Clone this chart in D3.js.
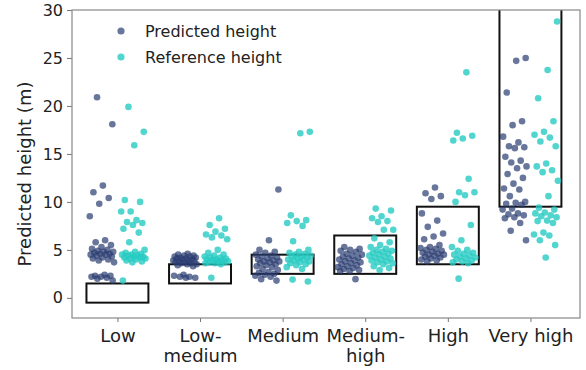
<!DOCTYPE html>
<html>
<head>
<meta charset="utf-8">
<script src="https://cdn.jsdelivr.net/npm/d3@7"></script>
<style>
  body { margin: 0; background: #fff; }
  svg { font-family: 'DejaVu Sans', sans-serif; }
</style>
</head>
<body>
<div id="chart"></div>
<script>
const categories = ['Low', 'Low-medium', 'Medium', 'Medium-high', 'High', 'Very high']
const tickLabels = [['Low'], ['Low-', 'medium'], ['Medium'], ['Medium-', 'high'], ['High'], ['Very high']]

// class ranges (m)
const rangeLow = [-0.5, 1.5, 2.5, 2.5, 3.5, 9.5]
const rangeHigh = [1.5, 3.5, 4.5, 6.5, 9.5, 32]

const predicted = [
  [20.9, 18.1, 11.7, 11.0, 10.4, 9.8, 8.5, 6.0, 5.8, 5.5, 5.3, 5.1, 5.0, 4.9, 4.8, 4.8, 4.7, 4.6, 4.6, 4.5, 4.5, 4.4, 4.3, 4.2, 4.1, 4.0, 3.9, 3.7, 2.4, 2.3, 2.3, 2.2, 2.2, 2.1, 2.0, 1.8],
  [4.6, 4.5, 4.4, 4.4, 4.3, 4.3, 4.2, 4.2, 4.1, 4.1, 4.0, 4.0, 3.9, 3.9, 3.8, 3.8, 3.7, 3.7, 3.6, 3.6, 3.5, 3.5, 3.4, 3.3, 2.4, 2.3, 2.2, 2.2, 2.1, 2.1],
  [11.3, 6.0, 5.0, 4.8, 4.7, 4.5, 4.4, 4.3, 4.2, 4.1, 4.0, 3.9, 3.8, 3.8, 3.7, 3.6, 3.5, 3.4, 3.3, 3.2, 3.0, 2.9, 2.7, 2.6, 2.5, 2.4, 2.3, 2.2, 1.95, 1.8],
  [5.3, 5.1, 5.0, 4.9, 4.8, 4.6, 4.5, 4.4, 4.3, 4.2, 4.1, 4.0, 3.9, 3.8, 3.7, 3.6, 3.5, 3.4, 3.3, 3.2, 3.1, 3.0, 2.9, 2.8, 2.8, 1.95],
  [11.5, 10.9, 10.6, 10.3, 8.8, 8.05, 7.4, 6.7, 6.4, 6.1, 5.5, 5.3, 5.2, 5.1, 5.0, 4.9, 4.8, 4.7, 4.6, 4.5, 4.5, 4.4, 4.3, 4.2, 4.1, 4.0, 3.9, 3.8],
  [25.0, 24.7, 21.4, 18.4, 18.0, 16.8, 16.2, 15.8, 15.7, 15.6, 14.7, 14.3, 14.1, 13.7, 13.5, 12.9, 12.5, 11.9, 11.4, 11.3, 10.6, 10.0, 9.9, 9.8, 9.7, 9.3, 9.2, 8.8, 8.7, 8.6, 8.4, 8.3, 7.8, 7.0, 6.0]
]

const reference = [
  [19.9, 17.3, 15.9, 10.2, 10.0, 9.0, 9.0, 8.1, 7.9, 7.8, 7.6, 7.2, 6.8, 5.8, 5.0, 4.8, 4.7, 4.6, 4.5, 4.5, 4.4, 4.4, 4.3, 4.3, 4.2, 4.2, 4.1, 4.1, 4.0, 3.9, 3.8, 3.7, 1.8],
  [8.3, 7.6, 7.2, 6.9, 6.6, 6.5, 6.3, 6.1, 5.0, 4.7, 4.5, 4.4, 4.3, 4.2, 4.2, 4.1, 4.0, 4.0, 3.9, 3.9, 3.8, 3.8, 3.7, 3.7, 3.6, 3.6, 3.5, 2.1],
  [17.3, 17.15, 8.6, 8.1, 8.0, 7.8, 7.5, 5.9, 5.0, 4.8, 4.7, 4.6, 4.5, 4.4, 4.3, 4.3, 4.2, 4.1, 4.0, 4.0, 3.9, 3.8, 3.7, 3.6, 3.5, 3.4, 3.2, 3.0, 1.9, 1.7],
  [9.3, 9.1, 8.5, 8.3, 8.0, 7.9, 7.1, 7.1, 6.2, 5.8, 5.5, 5.3, 5.1, 5.0, 4.9, 4.8, 4.7, 4.6, 4.5, 4.4, 4.3, 4.2, 4.1, 4.0, 3.9, 3.8, 3.7, 3.6, 3.5, 3.3, 3.1, 2.9],
  [23.5, 17.2, 16.9, 16.6, 16.4, 12.4, 11.0, 11.0, 10.7, 10.0, 7.6, 6.0, 5.3, 5.0, 4.9, 4.7, 4.6, 4.5, 4.4, 4.3, 4.2, 4.1, 4.0, 3.9, 3.8, 3.7, 3.6, 2.0],
  [28.8, 23.75, 20.8, 18.4, 17.3, 17.0, 16.7, 16.3, 15.8, 14.0, 13.7, 13.3, 13.1, 12.2, 10.6, 9.4, 9.2, 8.9, 8.8, 8.6, 8.5, 8.4, 8.05, 8.0, 7.8, 6.8, 6.6, 6.5, 6.0, 5.5, 4.2]
]

const series = [
  { name: 'Predicted height', values: predicted, color: '#2a3c70', opacity: 0.7, dodge: -0.19 },
  { name: 'Reference height', values: reference, color: '#26cbc2', opacity: 0.8, dodge: 0.19 }
]

const width = 586, height = 370
const margin = { top: 10, right: 6, bottom: 52, left: 72 }
const w = width - margin.left - margin.right
const h = height - margin.top - margin.bottom

const svg = d3.select('#chart').append('svg')
    .attr('width', width)
    .attr('height', height)

const canvas = svg.append('g')
    .attr('transform', 'translate(' + margin.left + ',' + margin.top + ')')

const x = d3.scaleLinear().domain([-0.55, 5.6]).range([0, w])
const y = d3.scaleLinear().domain([-2.1, 30]).range([h, 0])

canvas.append('clipPath').attr('id', 'clip')
  .append('rect').attr('width', w).attr('height', h)

const plot = canvas.append('g').attr('clip-path', 'url(#clip)')

// jitter within each strip: golden-ratio sequence, deterministic
const jitter = i => (((i * 0.6180339887 + 0.31) % 1) - 0.5) * 0.3

// class range boxes
plot.selectAll('rect.range')
  .data(categories)
  .enter().append('rect')
    .attr('class', 'range')
    .attr('x', (d, i) => x(i - 0.375))
    .attr('width', x(0.375) - x(-0.375))
    .attr('y', (d, i) => y(rangeHigh[i]))
    .attr('height', (d, i) => y(rangeLow[i]) - y(rangeHigh[i]))
    .attr('fill', 'none')
    .attr('stroke', '#111')
    .attr('stroke-width', 2)

for (const s of series) {
  const pts = []
  s.values.forEach((vals, ci) => vals.forEach((v, j) => pts.push({ c: ci, v: v, j: j })))
  plot.append('g').selectAll('circle')
    .data(pts)
    .enter().append('circle')
      .attr('cx', d => x(d.c + s.dodge + jitter(d.j + d.c * 7)))
      .attr('cy', d => y(d.v))
      .attr('r', 3.3)
      .attr('fill', s.color)
      .attr('fill-opacity', s.opacity)
}

// axes
const yAxis = canvas.append('g')
    .call(d3.axisLeft(y).tickValues([0, 5, 10, 15, 20, 25, 30]).tickSize(5).tickPadding(4))
yAxis.selectAll('text').attr('font-size', 16).attr('fill', '#222').style('font-family', 'DejaVu Sans')

const xAxis = canvas.append('g')
    .attr('transform', 'translate(0,' + h + ')')
    .call(d3.axisBottom(x).tickValues(d3.range(categories.length)).tickSize(4).tickFormat(''))
xAxis.selectAll('.tick').append('text')
    .attr('fill', '#222')
    .attr('font-size', 18)
    .attr('text-anchor', 'middle')
    .style('font-family', 'DejaVu Sans')
    .attr('y', 24)
    .selectAll('tspan')
    .data(d => tickLabels[d])
    .enter().append('tspan')
      .attr('x', 0)
      .attr('dy', (d, i) => i === 0 ? 0 : 20)
      .text(d => d)

canvas.selectAll('.domain').attr('stroke', 'none')
canvas.selectAll('.tick line').attr('stroke', '#777')

// frame
canvas.append('rect')
    .attr('width', w)
    .attr('height', h)
    .attr('fill', 'none')
    .attr('stroke', '#888')
    .attr('stroke-width', 1.2)

canvas.append('text')
    .attr('transform', 'rotate(-90)')
    .attr('x', -164)
    .attr('y', -41)
    .attr('text-anchor', 'middle')
    .attr('font-size', 18)
    .attr('fill', '#222')
    .text('Predicted height (m)')

// legend
const legend = canvas.append('g').attr('transform', 'translate(49,21)')
series.forEach((s, i) => {
  const row = legend.append('g').attr('transform', 'translate(0,' + (i * 26) + ')')
  row.append('circle').attr('r', 3.6).attr('fill', s.color).attr('fill-opacity', s.opacity)
  row.append('text').attr('x', 24).attr('y', 6).attr('font-size', 16).attr('fill', '#222').text(s.name)
})
</script>
</body>
</html>
